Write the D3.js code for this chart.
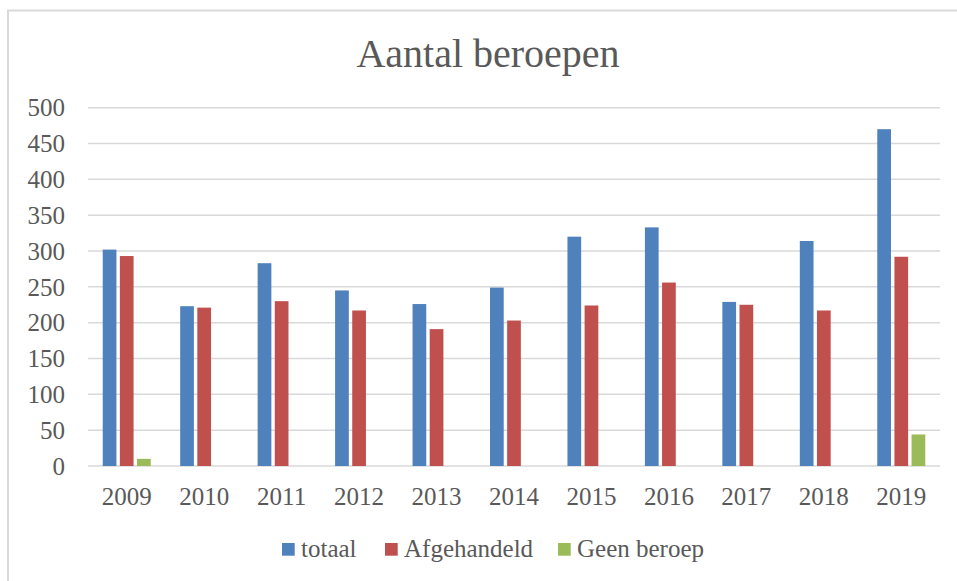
<!DOCTYPE html>
<html>
<head>
<meta charset="utf-8">
<script src="https://cdn.jsdelivr.net/npm/d3@7"></script>
<style>
  body { margin: 0; background: #fff; }
  text { font-family: "Liberation Serif", "DejaVu Serif", serif; fill: #595959; }
</style>
</head>
<body>
<svg id="chartSVG"></svg>
<script>
// data
const years = ["2009", "2010", "2011", "2012", "2013", "2014", "2015", "2016", "2017", "2018", "2019"];
const seriesNames = ["totaal", "Afgehandeld", "Geen beroep"];
const totaal      = [302, 223, 283, 245, 226, 249, 320, 333, 229, 314, 470];
const afgehandeld = [293, 221, 230, 217, 191, 203, 224, 256, 225, 217, 292];
const geenBeroep  = [10, 0, 0, 0, 0, 0, 0, 0, 0, 0, 44];
const yTicks = [0, 50, 100, 150, 200, 250, 300, 350, 400, 450, 500];

const colors = ["#4F81BD", "#C0504D", "#9BBB59"];
const values = [totaal, afgehandeld, geenBeroep];

const width = 957, height = 581;
const plotLeft = 88, plotRight = 940, plotTop = 107.7, plotBottom = 466;

let svg = d3.select("#chartSVG")
  .attr("width", width)
  .attr("height", height);

// chart border (only top and left edges are in view)
svg.append("path")
  .attr("d", `M8,${height} L8,10.5 L${width},10.5`)
  .attr("fill", "none")
  .attr("stroke", "#d9d9d9")
  .attr("stroke-width", 2);

svg.append("text")
  .text("Aantal beroepen")
  .attr("x", 488)
  .attr("y", 67)
  .attr("text-anchor", "middle")
  .style("font-size", "40px");

let yScale = d3.scaleLinear()
  .domain([0, 500])
  .range([plotBottom, plotTop]);

let x0 = d3.scaleBand()
  .domain(years)
  .range([plotLeft, plotRight]);

let x1 = d3.scaleBand()
  .domain(seriesNames)
  .range([0, 48])
  .paddingInner(0.2);

// gridlines
svg.append("g")
  .selectAll("line")
  .data(yTicks)
  .join("line")
  .attr("x1", plotLeft).attr("x2", plotRight)
  .attr("y1", d => yScale(d)).attr("y2", d => yScale(d))
  .attr("stroke", "#d9d9d9")
  .attr("stroke-width", 1.5);

// y labels
svg.append("g")
  .attr("transform", `translate(65,0)`)
  .call(d3.axisLeft(yScale).tickValues(yTicks).tickSize(0).tickPadding(0))
  .call(g => g.select(".domain").remove())
  .selectAll("text")
  .attr("dy", "0.33em")
  .style("font-size", "25px")
  .attr("fill", "#595959");

// x labels
svg.append("g")
  .attr("transform", `translate(0,${plotBottom})`)
  .call(d3.axisBottom(x0).tickSize(0).tickPadding(0))
  .call(g => g.select(".domain").remove())
  .selectAll("text")
  .attr("y", 39)
  .attr("dy", 0)
  .style("font-size", "25px")
  .attr("fill", "#595959");

// bars
let groups = svg.append("g")
  .selectAll("g")
  .data(years)
  .join("g")
  .attr("transform", d => `translate(${x0(d) + x0.bandwidth() / 2 - 24},0)`);

groups.selectAll("rect")
  .data((d, i) => seriesNames.map((s, j) => ({ s: s, j: j, v: values[j][i] })))
  .join("rect")
  .filter(d => d.v > 0)
  .attr("x", d => x1(d.s))
  .attr("y", d => yScale(d.v))
  .attr("width", x1.bandwidth())
  .attr("height", d => plotBottom - yScale(d.v))
  .attr("fill", d => colors[d.j]);

// legend
let legendX = [282, 385, 558];
let legend = svg.append("g")
  .selectAll("g")
  .data(seriesNames)
  .join("g")
  .attr("transform", (d, i) => `translate(${legendX[i]},543)`);

legend.append("rect")
  .attr("width", 12.7).attr("height", 12.7)
  .attr("fill", (d, i) => colors[i]);

legend.append("text")
  .text(d => d)
  .attr("x", 19)
  .attr("y", 14)
  .style("font-size", "25px");
</script>
</body>
</html>
